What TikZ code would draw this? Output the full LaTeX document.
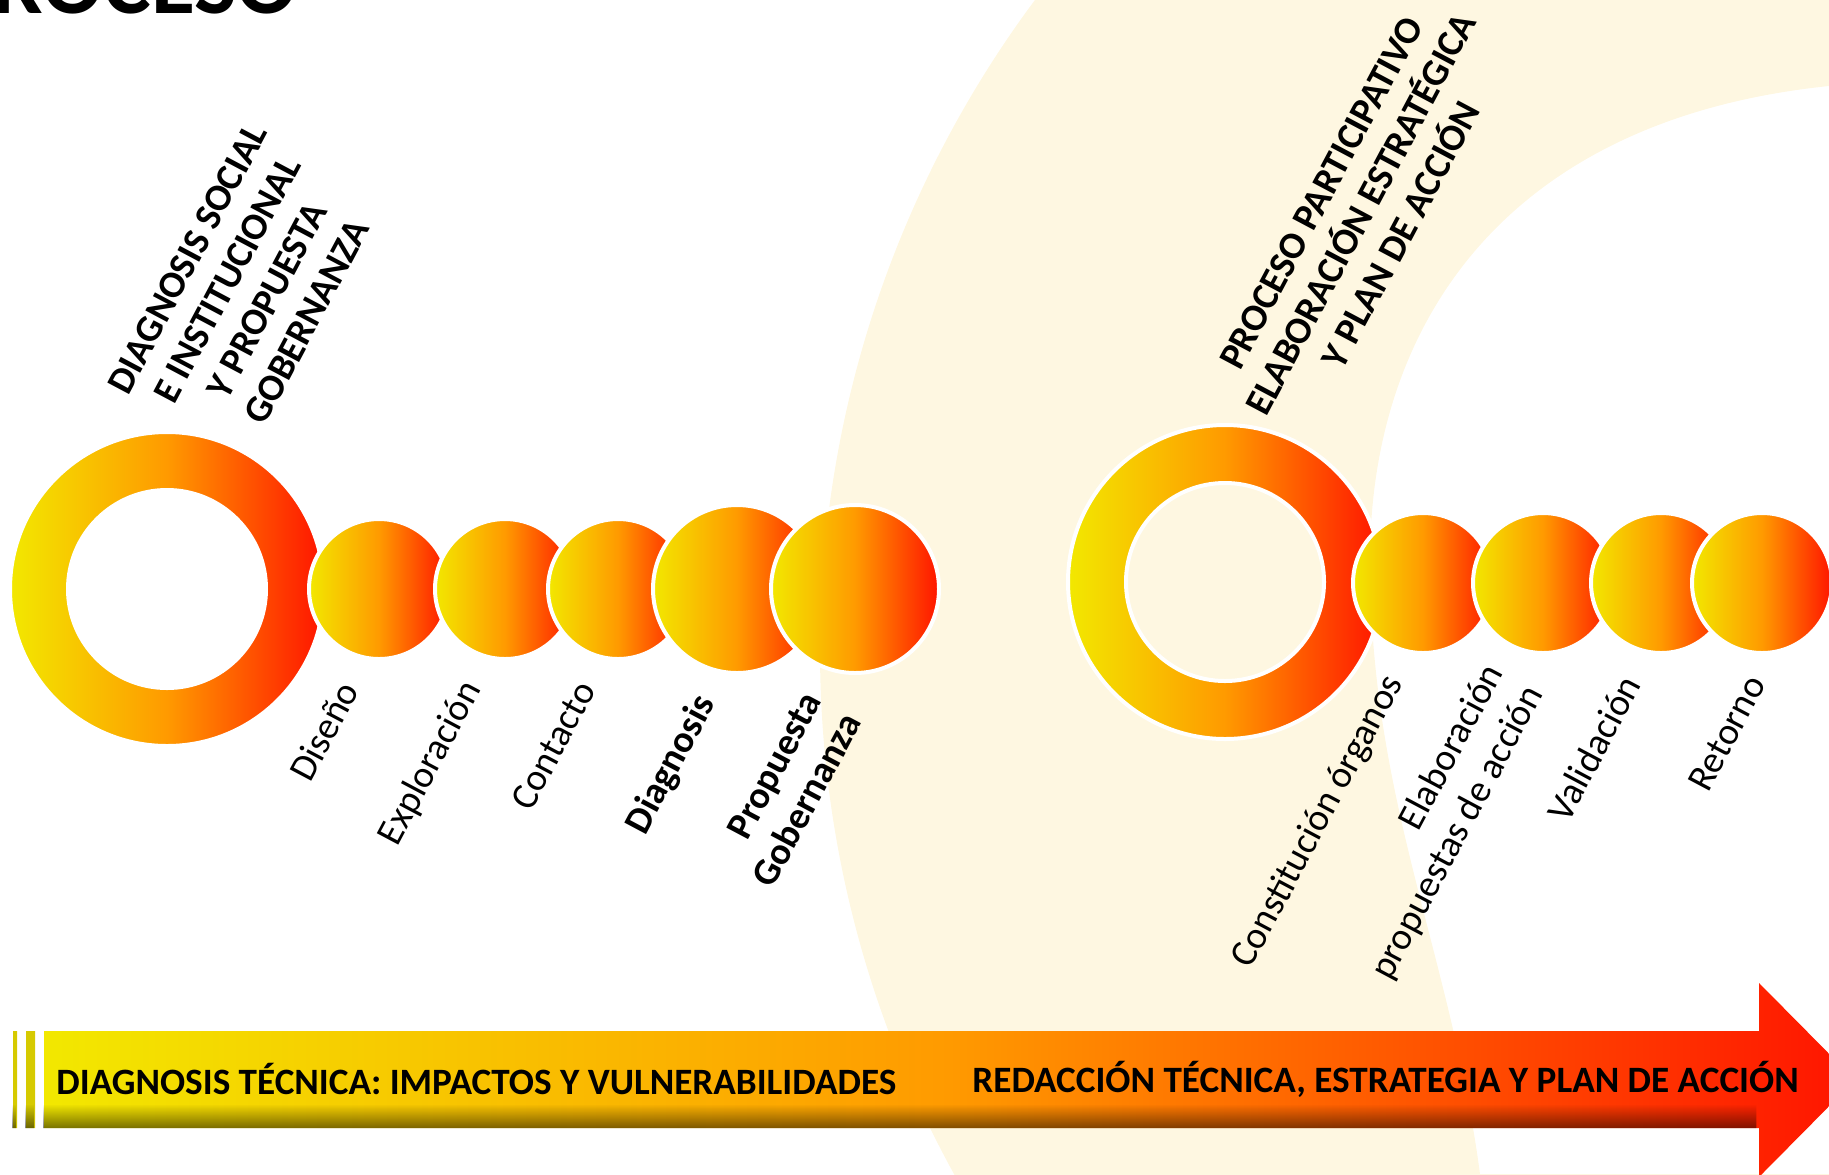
\documentclass[tikz,border=0pt]{standalone}
\usepackage{fontspec}
\setmainfont{Carlito}
\usetikzlibrary{fadings}
\definecolor{yel}{RGB}{242,232,0}
\definecolor{orn}{RGB}{255,154,0}
\definecolor{rd}{RGB}{255,20,0}
\definecolor{cream}{RGB}{254,247,225}
\definecolor{olive}{RGB}{214,202,0}
\tikzfading[name=shadowfade, top color=transparent!100, bottom color=transparent!0]
\begin{document}
\begin{tikzpicture}[x=0.5pt, y=-0.5pt,
  warm/.style={left color=yel, right color=rd, middle color=orn},
  ball/.style={circle, inner sep=0pt, warm, draw=white, line width=2pt, minimum size=70pt},
  bigball/.style={ball, minimum size=84pt},
  ring/.style={warm, draw=white, line width=2pt, even odd rule},
  lbl/.style={rotate=62, anchor=east, align=right, inner sep=0pt, font=\fontsize{19}{22.5}\selectfont},
  title/.style={rotate=62, align=center, inner sep=0pt, font=\bfseries\fontsize{19}{22.5}\selectfont},
  band/.style={anchor=base west, inner sep=0pt, font=\bfseries\fontsize{18.6}{22}\selectfont}]
\path[use as bounding box, clip] (0,0) rectangle (1829,1174);
% watermark
\fill[cream, even odd rule] (1910,650) circle[radius=1090]
  (1829,86) .. controls (1500,120) and (1370,330) .. (1370,560)
  .. controls (1370,800) and (1450,950) .. (1480,1174) -- (1910,1174) -- (1910,86) -- cycle;
\node[anchor=base east, inner sep=0pt, font=\bfseries\fontsize{45}{50}\selectfont] (head) at (298,13) {ROCESO};
% first phase
\coordinate (r1) at (167,589);
\path[ring] (r1) circle[radius=157] (r1) circle[radius=99];
\node[ball] (dis) at (379,589) {};
\node[ball] (exp) at (505,589) {};
\node[ball] (con) at (618,589) {};
\node[bigball] (dia) at (737,589) {};
\node[bigball] (pro) at (855,589) {};
\node[title] (t1) at (247,290) {DIAGNOSIS SOCIAL\\E INSTITUCIONAL\\Y PROPUESTA\\GOBERNANZA};
\node[lbl] (ldis) at (349,684) {Diseño};
\node[lbl] (lexp) at (473,684) {Exploración};
\node[lbl] (lcon) at (586,684) {Contacto};
\node[lbl, font=\bfseries\fontsize{19}{22.5}\selectfont] (ldia) at (707,698) {Diagnosis};
\node[lbl, font=\bfseries\fontsize{19}{22.5}\selectfont] (lpro) at (832,705) {Propuesta\\Gobernanza};
% second phase
\coordinate (r2) at (1225,582);
\path[ring] (r2) circle[radius=157] (r2) circle[radius=99];
\node[ball] (cons) at (1423,583) {};
\node[ball] (ela) at (1543,583) {};
\node[ball] (val) at (1661,583) {};
\node[ball] (ret) at (1762,583) {};
\node[title] (t2) at (1361,214) {PROCESO PARTICIPATIVO\\ELABORACIÓN ESTRATÉGICA\\Y PLAN DE ACCIÓN};
\node[lbl] (lcons) at (1395,678) {Constitución órganos};
\node[lbl] (lela) at (1515,678) {Elaboración\\propuestas de acción};
\node[lbl] (lval) at (1631,678) {Validación};
\node[lbl] (lret) at (1756,678) {Retorno};
% time arrow
\fill[olive] (13,1031) rectangle (17,1128) (26,1031) rectangle (35,1128);
\path[warm] (44,1031) -- (1759,1031) -- (1759,983) -- (1855,1080) -- (1759,1177) -- (1759,1128) -- (44,1128) -- cycle;
\fill[black, opacity=0.5, path fading=shadowfade] (13,1104) rectangle (17,1128) (26,1104) rectangle (35,1128) (44,1104) rectangle (1759,1128);
\node[band] (ptec) at (56,1094) {DIAGNOSIS TÉCNICA: IMPACTOS Y VULNERABILIDADES};
\node[band] (pred) at (972,1092) {REDACCIÓN TÉCNICA, ESTRATEGIA Y PLAN DE ACCIÓN};
\end{tikzpicture}
\end{document}
